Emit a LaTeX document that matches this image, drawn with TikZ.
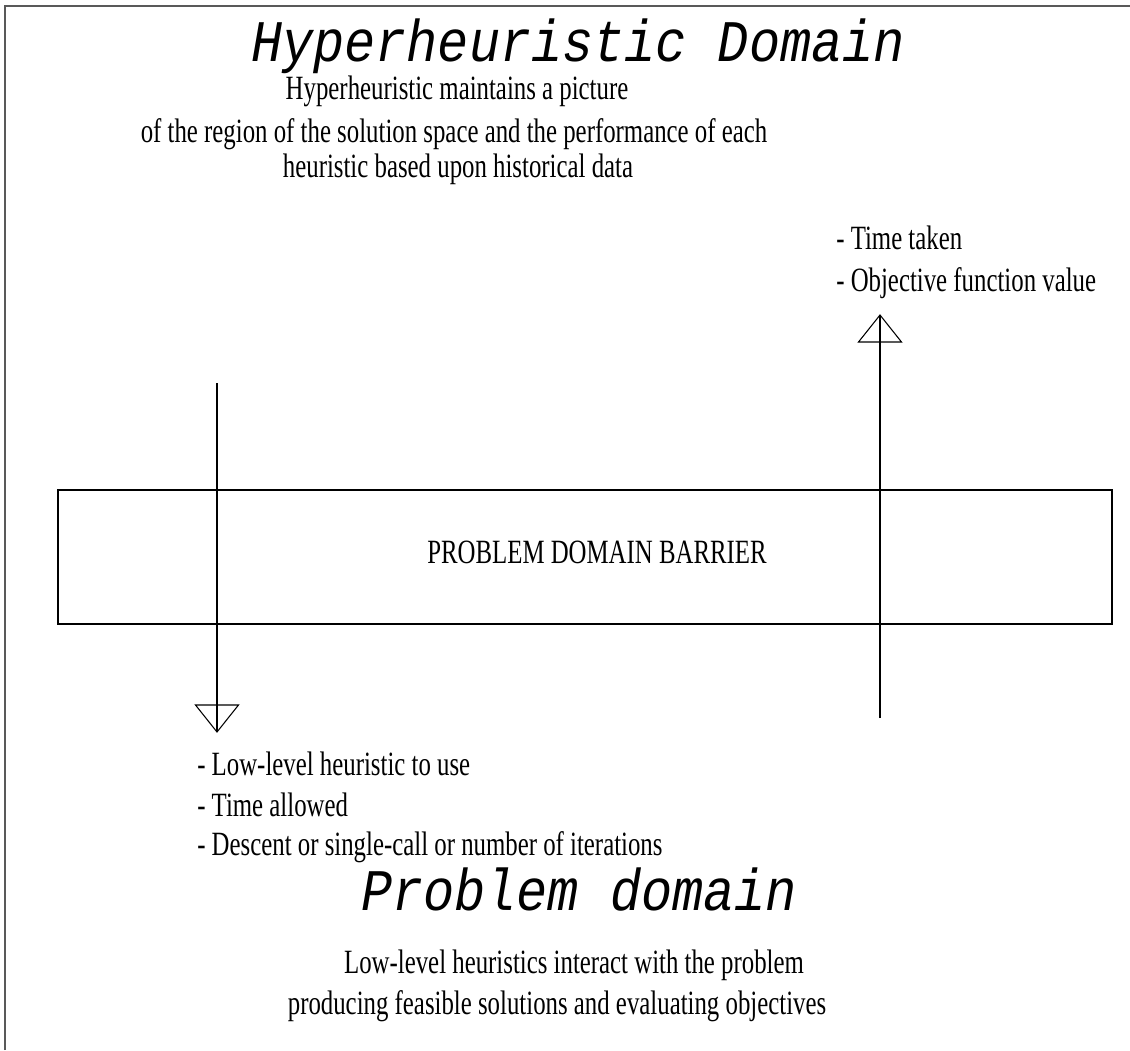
\documentclass[tikz,border=0pt]{standalone}
\usepackage{fontspec}
\setmainfont{Liberation Serif}
\newfontfamily\bodyfont[FakeStretch=0.73]{Liberation Serif}
\newfontfamily\headfont[FakeStretch=0.88]{Liberation Mono}
\begin{document}
\begin{tikzpicture}[x=0.75pt,y=-0.75pt,
  body/.style={font=\bodyfont\fontsize{25.5}{30}\selectfont, inner sep=0, anchor=base},
  listitem/.style={body, anchor=base west},
  heading/.style={font=\headfont\itshape\fontsize{44.2}{52}\selectfont, inner sep=0, anchor=base},
  frameline/.style={draw=black!65, line width=1pt},
  barrierbox/.style={draw=black, line width=1pt},
  flow/.style={draw=black, line width=0.8pt},
  opentip/.style={draw=black, line width=0.8pt, line join=miter}]
\useasboundingbox (0,0) rectangle (1130,1050);

% page frame (top and left edges)
\draw[frameline] (5,1050) -- (5,6) -- (1130,6);

% upper domain
\node[heading] (hhtitle) at (578,61) {Hyperheuristic Domain};
\node[body] (hh1) at (457,99) {Hyperheuristic maintains a picture};
\node[body] (hh2) at (454,142) {of the region of the solution space and the performance of each};
\node[body] (hh3) at (458,177) {heuristic based upon historical data};

% feedback list
\node[listitem] (fb1) at (836,249) {- Time taken};
\node[listitem] (fb2) at (836,291) {- Objective function value};

% barrier
\draw[barrierbox] (58,490) rectangle (1112,624);
\node[body] (barrier) at (597,563) {PROBLEM DOMAIN BARRIER};

% downward call
\coordinate (downstart) at (217,383);
\coordinate (downtip) at (217,732);
\draw[flow] (downstart) -- (downtip);
\draw[opentip] (downtip) -- ++(-21.5,-27) -- ++(43,0) -- cycle;

% upward feedback
\coordinate (upstart) at (880,718);
\coordinate (uptip) at (880,315);
\draw[flow] (upstart) -- (uptip);
\draw[opentip] (uptip) -- ++(-21.5,27) -- ++(43,0) -- cycle;

% call parameters
\node[listitem] (cp1) at (197,775) {- Low-level heuristic to use};
\node[listitem] (cp2) at (197,816) {- Time allowed};
\node[listitem] (cp3) at (197,855) {- Descent or single-call or number of iterations};

% lower domain
\node[heading] (pdtitle) at (579,910) {Problem domain};
\node[body] (pd1) at (574,973) {Low-level heuristics interact with the problem};
\node[body] (pd2) at (557,1014) {producing feasible solutions and evaluating objectives};
\end{tikzpicture}
\end{document}
